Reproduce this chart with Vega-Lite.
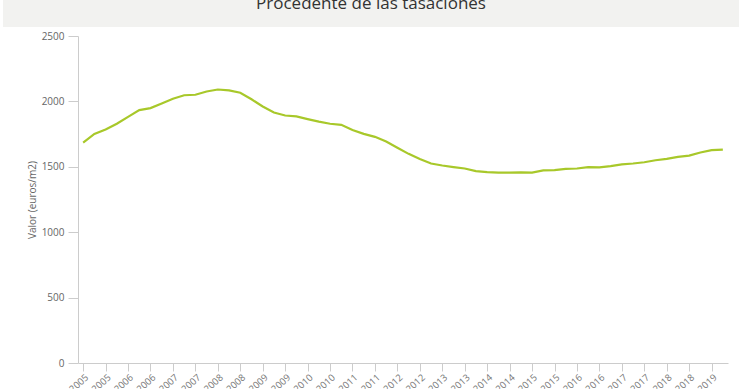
{
  "$schema": "https://vega.github.io/schema/vega-lite/v6.json",
  "padding": {"left": 3, "top": 0, "right": 0, "bottom": 0},
  "background": "white",
  "config": {"view": {"stroke": null}, "font": "Open Sans"},
  "spacing": 4,
  "vconcat": [
    {
      "width": 736,
      "height": 27,
      "view": {"fill": "#f2f2f0", "stroke": null},
      "data": {"values": [{"titulo": "Procedente de las tasaciones"}]},
      "mark": {"type": "text", "font": "Open Sans", "fontSize": 17, "color": "#333333", "baseline": "alphabetic", "dy": -4.5, "clip": true},
      "encoding": {"text": {"field": "titulo", "type": "nominal"}}
    },
    {
      "spacing": 0,
      "hconcat": [
        {
          "width": 24,
          "height": 327,
          "data": {"values": []},
          "mark": {"type": "point", "opacity": 0},
          "encoding": {}
        },
        {
          "width": 650,
          "height": 327,
          "data": {"values": [
            {"periodo": "2005 T1", "valor": 1685},
            {"periodo": "2005 T2", "valor": 1751},
            {"periodo": "2005 T3", "valor": 1785},
            {"periodo": "2005 T4", "valor": 1829},
            {"periodo": "2006 T1", "valor": 1882},
            {"periodo": "2006 T2", "valor": 1933},
            {"periodo": "2006 T3", "valor": 1949},
            {"periodo": "2006 T4", "valor": 1984},
            {"periodo": "2007 T1", "valor": 2020},
            {"periodo": "2007 T2", "valor": 2047},
            {"periodo": "2007 T3", "valor": 2051},
            {"periodo": "2007 T4", "valor": 2076},
            {"periodo": "2008 T1", "valor": 2091},
            {"periodo": "2008 T2", "valor": 2084},
            {"periodo": "2008 T3", "valor": 2066},
            {"periodo": "2008 T4", "valor": 2016},
            {"periodo": "2009 T1", "valor": 1961},
            {"periodo": "2009 T2", "valor": 1915},
            {"periodo": "2009 T3", "valor": 1892},
            {"periodo": "2009 T4", "valor": 1885},
            {"periodo": "2010 T1", "valor": 1865},
            {"periodo": "2010 T2", "valor": 1845},
            {"periodo": "2010 T3", "valor": 1829},
            {"periodo": "2010 T4", "valor": 1821},
            {"periodo": "2011 T1", "valor": 1781},
            {"periodo": "2011 T2", "valor": 1752},
            {"periodo": "2011 T3", "valor": 1729},
            {"periodo": "2011 T4", "valor": 1693},
            {"periodo": "2012 T1", "valor": 1645},
            {"periodo": "2012 T2", "valor": 1599},
            {"periodo": "2012 T3", "valor": 1560},
            {"periodo": "2012 T4", "valor": 1525},
            {"periodo": "2013 T1", "valor": 1510},
            {"periodo": "2013 T2", "valor": 1498},
            {"periodo": "2013 T3", "valor": 1487},
            {"periodo": "2013 T4", "valor": 1467},
            {"periodo": "2014 T1", "valor": 1460},
            {"periodo": "2014 T2", "valor": 1456},
            {"periodo": "2014 T3", "valor": 1455},
            {"periodo": "2014 T4", "valor": 1458},
            {"periodo": "2015 T1", "valor": 1455},
            {"periodo": "2015 T2", "valor": 1472},
            {"periodo": "2015 T3", "valor": 1474},
            {"periodo": "2015 T4", "valor": 1484},
            {"periodo": "2016 T1", "valor": 1487},
            {"periodo": "2016 T2", "valor": 1498},
            {"periodo": "2016 T3", "valor": 1495},
            {"periodo": "2016 T4", "valor": 1505},
            {"periodo": "2017 T1", "valor": 1518},
            {"periodo": "2017 T2", "valor": 1525},
            {"periodo": "2017 T3", "valor": 1535},
            {"periodo": "2017 T4", "valor": 1550},
            {"periodo": "2018 T1", "valor": 1561},
            {"periodo": "2018 T2", "valor": 1576},
            {"periodo": "2018 T3", "valor": 1585},
            {"periodo": "2018 T4", "valor": 1609},
            {"periodo": "2019 T1", "valor": 1627},
            {"periodo": "2019 T2", "valor": 1632}
          ]},
          "mark": {"type": "line", "color": "#a8c82a", "strokeWidth": 2.2},
          "encoding": {
            "x": {
              "field": "periodo",
              "type": "ordinal",
              "sort": null,
              "scale": {"type": "point", "padding": 0.46},
              "axis": {
                "title": null,
                "values": ["2005 T1", "2005 T3", "2006 T1", "2006 T3", "2007 T1", "2007 T3", "2008 T1", "2008 T3", "2009 T1", "2009 T3", "2010 T1", "2010 T3", "2011 T1", "2011 T3", "2012 T1", "2012 T3", "2013 T1", "2013 T3", "2014 T1", "2014 T3", "2015 T1", "2015 T3", "2016 T1", "2016 T3", "2017 T1", "2017 T3", "2018 T1", "2018 T3", "2019 T1"],
                "labelExpr": "substring(datum.value, 0, 4)",
                "labelAngle": -42,
                "labelAlign": "right",
                "labelBaseline": "top",
                "labelFontSize": 9.5,
                "labelColor": "#777777",
                "labelPadding": 1,
                "tickSize": 8,
                "tickColor": "#cccccc",
                "domainColor": "#cccccc",
                "grid": false
              }
            },
            "y": {
              "field": "valor",
              "type": "quantitative",
              "scale": {"domain": [0, 2500], "nice": false},
              "axis": {
                "title": "Valor (euros/m2)",
                "titleFontSize": 10,
                "titleFontWeight": "normal",
                "titleColor": "#666666",
                "titlePadding": 4,
                "values": [0, 500, 1000, 1500, 2000, 2500],
                "format": "d",
                "labelFontSize": 10,
                "labelColor": "#666666",
                "labelPadding": 4,
                "tickSize": 10,
                "tickColor": "#cccccc",
                "domainColor": "#cccccc",
                "grid": false
              }
            }
          }
        }
      ]
    }
  ]
}
